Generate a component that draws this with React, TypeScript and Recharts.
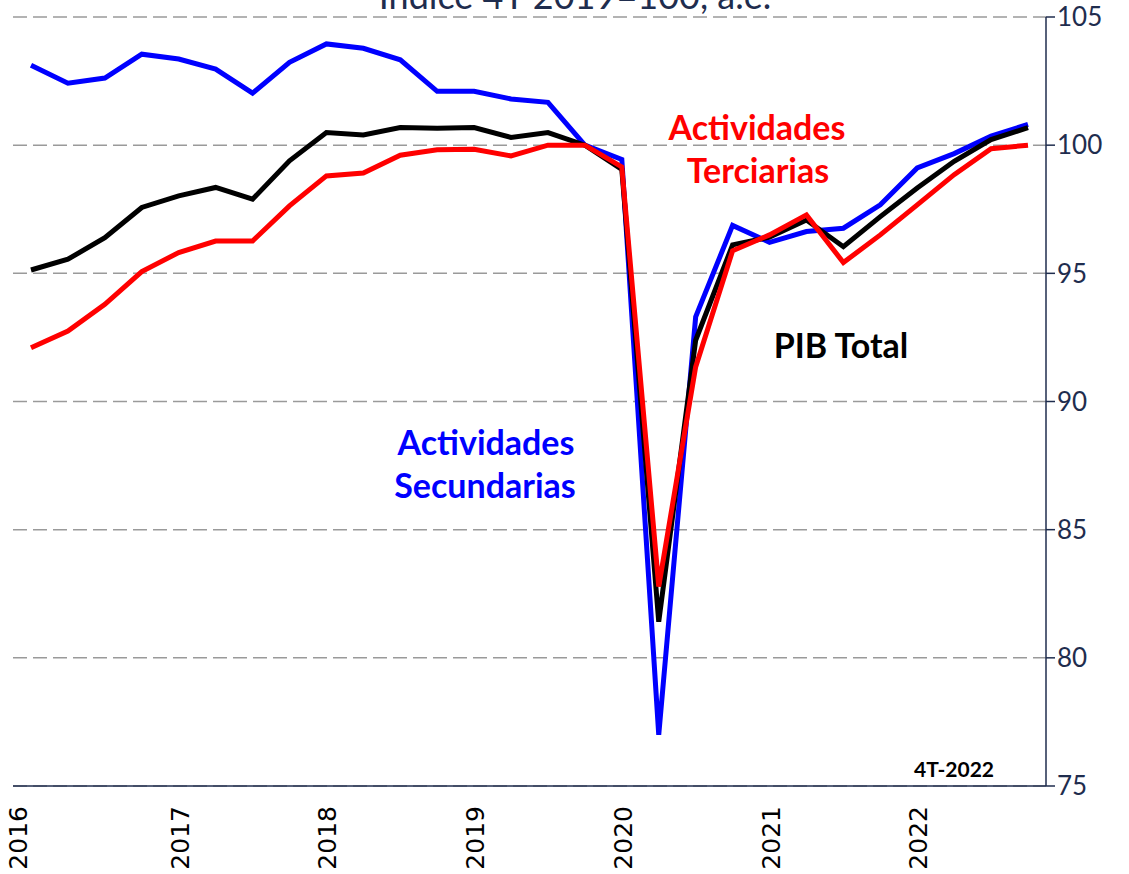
import { LineChart, Line, XAxis, YAxis, CartesianGrid } from "recharts";

const years = ["2016", "2017", "2018", "2019", "2020", "2021", "2022"];
const quarters = years.flatMap((y) => ["1", "2", "3", "4"].map((q) => `${q}T-${y}`));

const pibTotal = [
  95.13, 95.55, 96.39, 97.57, 98.02, 98.35, 97.89, 99.39,
  100.49, 100.4, 100.69, 100.66, 100.69, 100.3, 100.49, 100.0,
  99.05, 81.41, 92.39, 96.11, 96.41, 97.08, 96.04, 97.21,
  98.33, 99.37, 100.22, 100.68,
];
const secundarias = [
  103.12, 102.42, 102.62, 103.55, 103.36, 102.97, 102.03, 103.23,
  103.95, 103.78, 103.33, 102.1, 102.1, 101.8, 101.67, 100.0,
  99.44, 77.0, 93.3, 96.87, 96.21, 96.63, 96.76, 97.67,
  99.11, 99.67, 100.35, 100.81,
];
const terciarias = [
  92.1, 92.75, 93.79, 95.07, 95.81, 96.26, 96.26, 97.63,
  98.8, 98.91, 99.61, 99.82, 99.84, 99.58, 100.0, 100.0,
  99.15, 82.78, 91.35, 95.88, 96.5, 97.28, 95.42, 96.5,
  97.67, 98.85, 99.86, 100.0,
];
const yTicks = [75, 80, 85, 90, 95, 100, 105];
const xTicks = years.map((y) => `1T-${y}`);

const data = quarters.map((q, i) => ({
  q,
  pib: pibTotal[i],
  sec: secundarias[i],
  ter: terciarias[i],
}));

const navy = "#1f2d4e";

const YearTick = ({ x, y, payload, index }: any) => {
  const dx = index === 0 ? -14 : 0;
  return (
    <text
      x={x + dx + 10}
      y={y + 12}
      transform={`rotate(-90, ${x + dx + 10}, ${y + 12})`}
      textAnchor="end"
      fontFamily="DejaVu Sans"
      fontSize={25}
      fill="#000"
    >
      {payload.value.slice(3)}
    </text>
  );
};

export default function App() {
  return (
    <div style={{ position: "absolute", left: 0, top: 0, width: 1129, height: 874, background: "#fff" }}>
      <LineChart
        width={1129}
        height={874}
        data={data}
        margin={{ top: 17, right: 13, bottom: 8, left: 13 }}
      >
        <CartesianGrid
          vertical={false}
          stroke="#9a9a9a"
          strokeWidth={1.5}
          strokeDasharray="14 6"
        />
        <XAxis
          dataKey="q"
          ticks={xTicks}
          interval={0}
          tick={<YearTick />}
          tickLine={false}
          axisLine={{ stroke: navy, strokeWidth: 1.5 }}
          height={80}
          padding={{ left: 18, right: 18 }}
        />
        <YAxis
          orientation="right"
          domain={[75, 105]}
          ticks={yTicks}
          width={70}
          axisLine={{ stroke: navy, strokeWidth: 1.5 }}
          tickLine={{ stroke: navy, strokeWidth: 1.5 }}
          tickSize={9}
          tick={{ fill: navy, fontSize: 26, fontFamily: "Liberation Sans Narrow, Lato, sans-serif" }}
        />
        <Line dataKey="sec" stroke="#0000ff" strokeWidth={5} dot={false} isAnimationActive={false} />
        <Line dataKey="pib" stroke="#000000" strokeWidth={5} dot={false} isAnimationActive={false} />
        <Line dataKey="ter" stroke="#ff0000" strokeWidth={5} dot={false} isAnimationActive={false} />
      </LineChart>
      <svg
        width={1129}
        height={874}
        style={{ position: "absolute", left: 0, top: 0, pointerEvents: "none" }}
      >
        <text x={575} y={9} textAnchor="middle" fontFamily="Lato" fontSize={36} fill={navy}>
          Índice 4T 2019=100, a.e.
        </text>
        <g fontFamily="Lato" fontWeight="bold" fontSize={34} textAnchor="middle">
          <text x={757} y={140} fill="#ff0000">Actividades</text>
          <text x={758} y={183} fill="#ff0000">Terciarias</text>
          <text x={841} y={358} fill="#000">PIB Total</text>
          <text x={486} y={455} fill="#0000ff">Actividades</text>
          <text x={485} y={498} fill="#0000ff">Secundarias</text>
        </g>
        <text x={954} y={777} textAnchor="middle" fontFamily="Lato" fontWeight="bold" fontSize={21} fill="#000">
          4T-2022
        </text>
      </svg>
    </div>
  );
}
